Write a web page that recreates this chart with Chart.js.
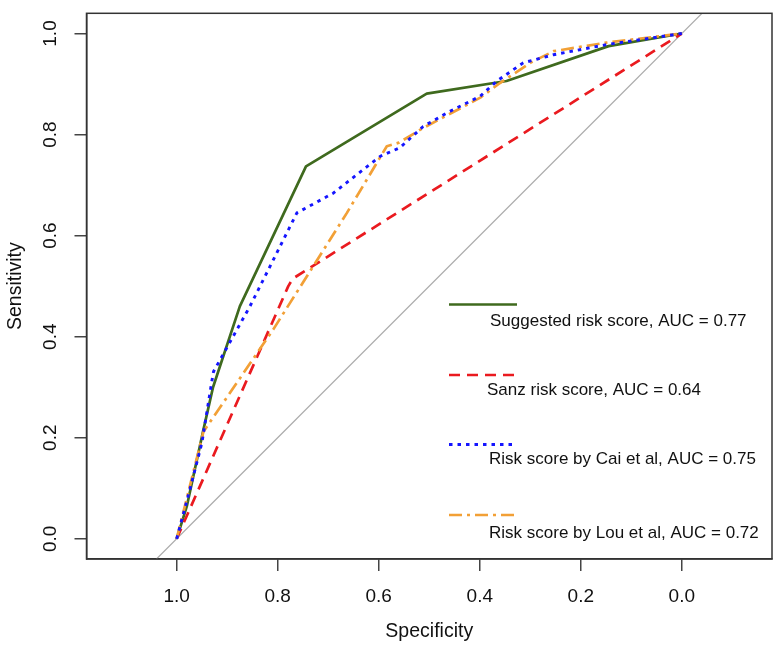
<!DOCTYPE html>
<html><head><meta charset="utf-8">
<script src="https://cdn.jsdelivr.net/npm/chart.js@4/dist/chart.umd.min.js"></script>
<style>html,body{margin:0;padding:0;background:#fff}#wrap{width:779px;height:650px;position:relative}</style>
</head><body><div id="wrap"><canvas id="c" width="779" height="650"></canvas></div>
<script>
// ---- data ----
const xTickValues = [1.0, 0.8, 0.6, 0.4, 0.2, 0.0];
const yTickValues = [0.0, 0.2, 0.4, 0.6, 0.8, 1.0];
const xTitle = 'Specificity';
const yTitle = 'Sensitivity';
const seriesLabels = [
  'Suggested risk score, AUC = 0.77',
  'Sanz risk score, AUC = 0.64',
  'Risk score by Cai et al, AUC = 0.75',
  'Risk score by Lou et al, AUC = 0.72'
];
const suggestedSpec = [1.0, 0.98, 0.947, 0.928, 0.875, 0.744, 0.505, 0.347, 0.145, 0.0];
const suggestedSens = [0.0, 0.064, 0.216, 0.30, 0.46, 0.737, 0.881, 0.906, 0.975, 1.0];
const sanzSpec = [1.0, 0.779, 0.77, 0.0];
const sanzSens = [0.0, 0.50, 0.515, 1.0];
const caiSpec = [1.0, 0.974, 0.950, 0.931, 0.927, 0.855, 0.762, 0.69, 0.597, 0.558, 0.512, 0.465, 0.399, 0.366, 0.314, 0.254, 0.149, 0.0];
const caiSens = [0.0, 0.097, 0.190, 0.308, 0.331, 0.46, 0.645, 0.684, 0.757, 0.774, 0.816, 0.843, 0.876, 0.906, 0.942, 0.958, 0.978, 1.0];
const louSpec = [1.0, 0.947, 0.809, 0.663, 0.584, 0.56, 0.512, 0.399, 0.36, 0.30, 0.254, 0.149, 0.0];
const louSens = [0.0, 0.212, 0.414, 0.645, 0.777, 0.784, 0.813, 0.873, 0.902, 0.942, 0.965, 0.982, 1.0];
const yLimits = [-0.04, 1.04];
const xLimits = [-0.1785, 1.1785];

const pts = (xs, ys) => xs.map((x, i) => ({x: x, y: ys[i]}));
const FONT = '"Liberation Sans", Arial, Helvetica, sans-serif';

const datasets = [
  {label: seriesLabels[0], data: pts(suggestedSpec, suggestedSens), borderColor: '#3f6a1e', borderWidth: 2.7, borderDash: [], order: 4},
  {label: seriesLabels[1], data: pts(sanzSpec, sanzSens), borderColor: '#ea1a1f', borderWidth: 2.7, borderDash: [11, 7], order: 3},
  {label: seriesLabels[2], data: pts(caiSpec, caiSens), borderColor: '#1515ff', borderWidth: 2.9, borderDash: [3.5, 5], order: 1},
  {label: seriesLabels[3], data: pts(louSpec, louSens), borderColor: '#f2a036', borderWidth: 2.7, borderDash: [13, 5, 3, 5], order: 2},
  {label: 'identity', data: yLimits.map(y => ({x: 1 - y, y: y})), borderColor: '#aaaaaa', borderWidth: 1.2, borderDash: [], order: 5, isRef: true}
].map(d => Object.assign({showLine: true, pointRadius: 0, pointHoverRadius: 0, fill: false, tension: 0, borderJoinStyle: 'round', borderCapStyle: 'butt'}, d));

const decor = {
  id: 'decor',
  afterDraw(chart) {
    const ctx = chart.ctx, a = chart.chartArea;
    const xs = chart.scales.x, ys = chart.scales.y;
    ctx.save();
    // box
    ctx.strokeStyle = '#333';
    ctx.lineWidth = 1.5;
    ctx.strokeRect(a.left, a.top, a.right - a.left, a.bottom - a.top);
    // tick labels
    ctx.fillStyle = '#111';
    ctx.font = '19px ' + FONT;
    ctx.textAlign = 'center';
    ctx.textBaseline = 'middle';
    xs.ticks.forEach(t => ctx.fillText(t.value.toFixed(1), xs.getPixelForValue(t.value), 597));
    ys.ticks.forEach(t => {
      ctx.save();
      ctx.translate(51, ys.getPixelForValue(t.value));
      ctx.rotate(-Math.PI / 2);
      ctx.fillText(t.value.toFixed(1), 0, 0);
      ctx.restore();
    });
    // titles
    ctx.font = '19.5px ' + FONT;
    ctx.fillText(xTitle, (a.left + a.right) / 2, 632);
    ctx.save();
    ctx.translate(16, (a.top + a.bottom) / 2);
    ctx.rotate(-Math.PI / 2);
    ctx.fillText(yTitle, 0, 0);
    ctx.restore();
    // legend
    const lineY = [304.5, 375, 444.5, 515];
    const textY = [321, 390, 459, 533.5];
    const textX = [490, 487, 489, 489];
    ctx.font = '17px ' + FONT;
    ctx.textAlign = 'left';
    chart.data.datasets.filter(d => !d.isRef).forEach((d, i) => {
      ctx.beginPath();
      ctx.strokeStyle = d.borderColor;
      ctx.lineWidth = d.borderWidth;
      ctx.setLineDash(d.borderDash);
      ctx.lineCap = 'butt';
      ctx.moveTo(449, lineY[i]);
      ctx.lineTo(517, lineY[i]);
      ctx.stroke();
      ctx.setLineDash([]);
      ctx.fillStyle = '#111';
      ctx.fillText(d.label, textX[i], textY[i]);
    });
    ctx.restore();
  }
};

new Chart(document.getElementById('c'), {
  type: 'scatter',
  data: {datasets: datasets},
  plugins: [decor],
  options: {
    responsive: false,
    devicePixelRatio: 1,
    animation: false,
    layout: {padding: {top: 13.3, right: 7, left: 0, bottom: 0}},
    plugins: {legend: {display: false}, tooltip: {enabled: false}},
    scales: {
      x: {
        type: 'linear', reverse: true, min: xLimits[0], max: xLimits[1],
        afterBuildTicks: s => { s.ticks = xTickValues.map(v => ({value: v})); },
        afterFit: s => { s.height = 91; },
        ticks: {display: false},
        grid: {display: true, drawOnChartArea: false, drawTicks: true, tickLength: 12, color: '#444', lineWidth: 1.5},
        border: {display: true, color: '#333', width: 1.5}
      },
      y: {
        type: 'linear', min: yLimits[0], max: yLimits[1],
        afterBuildTicks: s => { s.ticks = yTickValues.map(v => ({value: v})); },
        afterFit: s => { s.width = 86.5; },
        ticks: {display: false},
        grid: {display: true, drawOnChartArea: false, drawTicks: true, tickLength: 12, color: '#444', lineWidth: 1.5},
        border: {display: true, color: '#333', width: 1.5}
      }
    }
  }
});
</script></body></html>
